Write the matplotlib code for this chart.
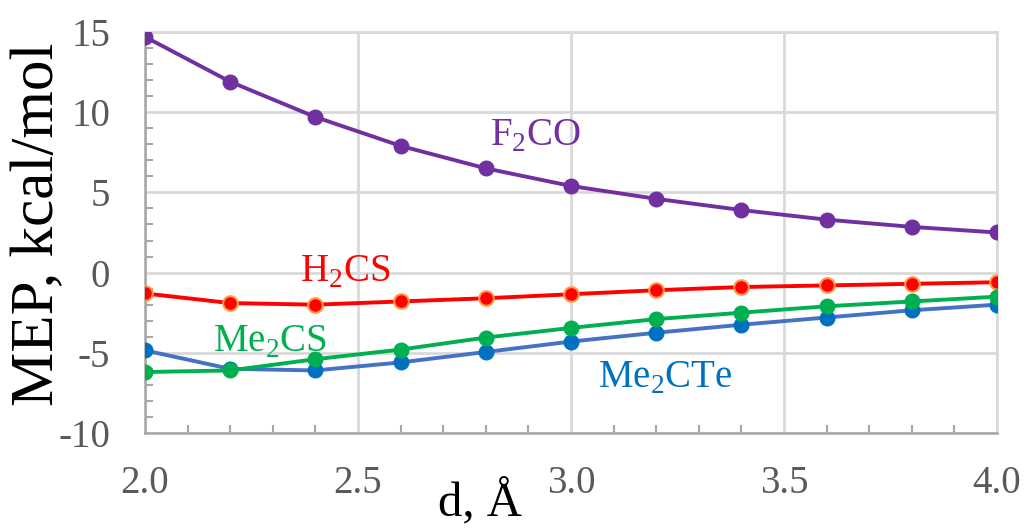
import numpy as np
import matplotlib
matplotlib.use("Agg")
import matplotlib.pyplot as plt
from matplotlib.ticker import MultipleLocator, FuncFormatter

plt.rcParams['font.family'] = ['Liberation Serif', 'DejaVu Serif']
plt.rcParams['mathtext.fontset'] = 'custom'
plt.rcParams['mathtext.rm'] = 'Liberation Serif'

# distancia d (Å)
d = [2.0, 2.2, 2.4, 2.6, 2.8, 3.0, 3.2, 3.4, 3.6, 3.8, 4.0]

# MEP, kcal/mol
f2co = [14.7, 11.9, 9.7, 7.9, 6.5, 5.4, 4.6, 3.9, 3.3, 2.85, 2.5]
h2cs = [-1.3, -1.9, -2.0, -1.8, -1.6, -1.35, -1.1, -0.9, -0.8, -0.7, -0.6]
me2cs = [-6.2, -6.1, -5.4, -4.8, -4.05, -3.45, -2.9, -2.5, -2.1, -1.8, -1.5]
me2cte = [-4.85, -6.0, -6.1, -5.6, -4.95, -4.3, -3.75, -3.25, -2.8, -2.35, -2.0]

etiquetas = [r'F$_2$CO', r'H$_2$CS', r'Me$_2$CS', r'Me$_2$CTe']

fig = plt.figure(figsize=(10.26, 5.29), dpi=100)
ax = fig.add_axes([0.1413, 0.1815, 0.8304, 0.758])

lw = 2.8
ms = 10.5
ax.plot(d, f2co, color='#7030A0', lw=lw, marker='o', ms=ms, zorder=5)
ax.plot(d, h2cs, color='#FF0000', lw=lw, marker='o', ms=ms,
        markeredgecolor='#FF9A40', markeredgewidth=1.5, zorder=5)
ax.plot(d, me2cte, color='#4472C4', lw=lw, marker='o', ms=ms,
        markerfacecolor='#0070C0', markeredgecolor='#0070C0', zorder=4)
ax.plot(d, me2cs, color='#00B050', lw=lw, marker='o', ms=ms, zorder=5)

ax.set_xlim(2.0, 4.0)
ax.set_ylim(-10, 15)
ax.xaxis.set_major_locator(MultipleLocator(0.5))
ax.xaxis.set_minor_locator(MultipleLocator(0.1))
ax.yaxis.set_major_locator(MultipleLocator(5))
ax.yaxis.set_minor_locator(MultipleLocator(1))
ax.xaxis.set_major_formatter(FuncFormatter(lambda v, p: f"{v:.1f}"))
ax.yaxis.set_major_formatter(FuncFormatter(lambda v, p: f"{v:.0f}".replace('\u2212', '-')))

ax.grid(True, which='major', color='#D9D9D9', lw=2, zorder=0)
ax.set_axisbelow(True)
for s in ['top', 'right']:
    ax.spines[s].set_color('#D9D9D9')
    ax.spines[s].set_linewidth(2)
for s in ['left', 'bottom']:
    ax.spines[s].set_color('#A6A6A6')
    ax.spines[s].set_linewidth(1.8)

ax.tick_params(which='major', length=0, labelsize=28, labelcolor='#595959')
ax.tick_params(axis='x', which='major', pad=23)
ax.tick_params(axis='y', which='major', pad=25)
ax.tick_params(which='minor', direction='in', length=6, width=1.5, color='#A6A6A6')

ax.set_xlabel('d, Å', fontsize=35, color='black')
ax.xaxis.set_label_coords(0.393, -0.205)
ax.xaxis.label.set_va('baseline')
ax.set_ylabel('MEP, kcal/mol', fontsize=44, color='black')
ax.yaxis.set_label_coords(-0.093, 0.52)

ax.text(2.81, 8.5, etiquetas[0], color='#7030A0', fontsize=28, va='center', ha='left')
ax.text(2.365, 0.05, etiquetas[1], color='#FF0000', fontsize=28, va='center', ha='left')
ax.text(2.16, -4.35, etiquetas[2], color='#00B050', fontsize=28, va='center', ha='left')
ax.text(3.063, -6.6, etiquetas[3], color='#0070C0', fontsize=28, va='center', ha='left')

fig.savefig('out.png', dpi=100)
